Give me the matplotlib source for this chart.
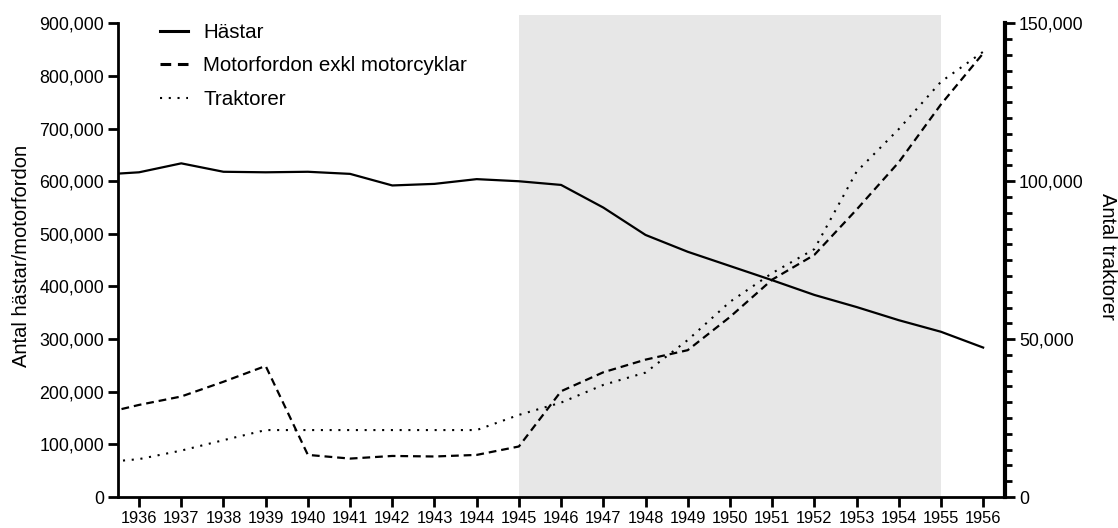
import numpy as np
import matplotlib
matplotlib.use("Agg")
from matplotlib import pyplot as plt
from matplotlib.ticker import FuncFormatter, MultipleLocator

plt.rcParams['font.family'] = ['Liberation Sans', 'DejaVu Sans']

years = list(range(1935, 1957))
hastar = [612000, 617000, 634000, 618000, 617000, 618000, 614000, 592000, 595000, 604000,
          600000, 593000, 550000, 498000, 466000, 439000, 412000, 384000, 361000, 336000,
          314000, 284000]
motorfordon = [156000, 175000, 191000, 219000, 249000, 80000, 73000, 78000, 77000, 80000,
               96000, 201000, 237000, 261000, 279000, 342000, 413000, 460000, 546000, 636000,
               746000, 843000]
traktorer = [10800, 12000, 14700, 18000, 21200, 21200, 21200, 21200, 21200, 21200,
             26000, 29900, 35500, 39400, 49700, 61800, 70900, 78500, 103000, 116500,
             131500, 141000]
shade_start, shade_end = 1945, 1955

fig = plt.figure(figsize=(11.18, 5.28), dpi=100)
ax = fig.add_axes([0.1055, 0.0587, 0.7935, 0.913])
ax2 = ax.twinx()

ax.axvspan(shade_start, shade_end, color='#e7e7e7', lw=0, zorder=0)
h1, = ax.plot(years, hastar, color='black', lw=1.6, label='Hästar')
h2, = ax.plot(years, motorfordon, color='black', lw=1.6, linestyle=(0, (3.5, 2.2)),
              label='Motorfordon exkl motorcyklar')
h3, = ax2.plot(years, traktorer, color='black', lw=1.5, linestyle=(0, (1, 3.2)),
               label='Traktorer')

ax.set_xlim(1935.5, 1956.52)
ax.set_ylim(0, 916000)
ax2.set_ylim(0, 916000 / 6)

fmt = FuncFormatter(lambda v, p: f'{int(v):,}')
ax.yaxis.set_major_locator(MultipleLocator(100000))
ax.yaxis.set_major_formatter(fmt)
ax2.yaxis.set_major_locator(MultipleLocator(50000))
ax2.yaxis.set_minor_locator(MultipleLocator(5000))
ax2.yaxis.set_major_formatter(fmt)
ax.set_xticks(years[1:])

for s in ['top', 'right']:
    ax.spines[s].set_visible(False)
for s in ['top', 'left', 'bottom']:
    ax2.spines[s].set_visible(False)
ax.spines['left'].set_linewidth(2)
ax.spines['bottom'].set_linewidth(2)
ax.spines['left'].set_bounds(0, 900000)
ax2.spines['right'].set_linewidth(3)
ax2.spines['right'].set_bounds(0, 150000)

ax.tick_params(axis='both', direction='out', length=7, width=2, colors='black')
ax.tick_params(axis='y', labelsize=12.8, pad=3)
ax.tick_params(axis='x', labelsize=11.8, pad=3)
ax2.tick_params(axis='y', which='major', length=7, width=2, labelsize=12.8, pad=3)
ax2.tick_params(axis='y', which='minor', length=5, width=2)

ax.set_ylabel('Antal hästar/motorfordon', fontsize=14.5, labelpad=6)
ax2.set_ylabel('Antal traktorer', fontsize=14.5, rotation=270, labelpad=24)

leg = ax.legend(handles=[h1, h2, h3], loc='upper left',
                bbox_to_anchor=(160 / 1118, 1 - 23 / 528),
                bbox_transform=fig.transFigure, borderaxespad=0, borderpad=0,
                frameon=False, fontsize=14.8, handlelength=1.35, handletextpad=0.75,
                labelspacing=0.7)
leg_lines = leg.get_lines()
leg_lines[0].set_linewidth(2.2)
leg_lines[1].set_linewidth(2.2)

fig.savefig('out.png', dpi=100)
